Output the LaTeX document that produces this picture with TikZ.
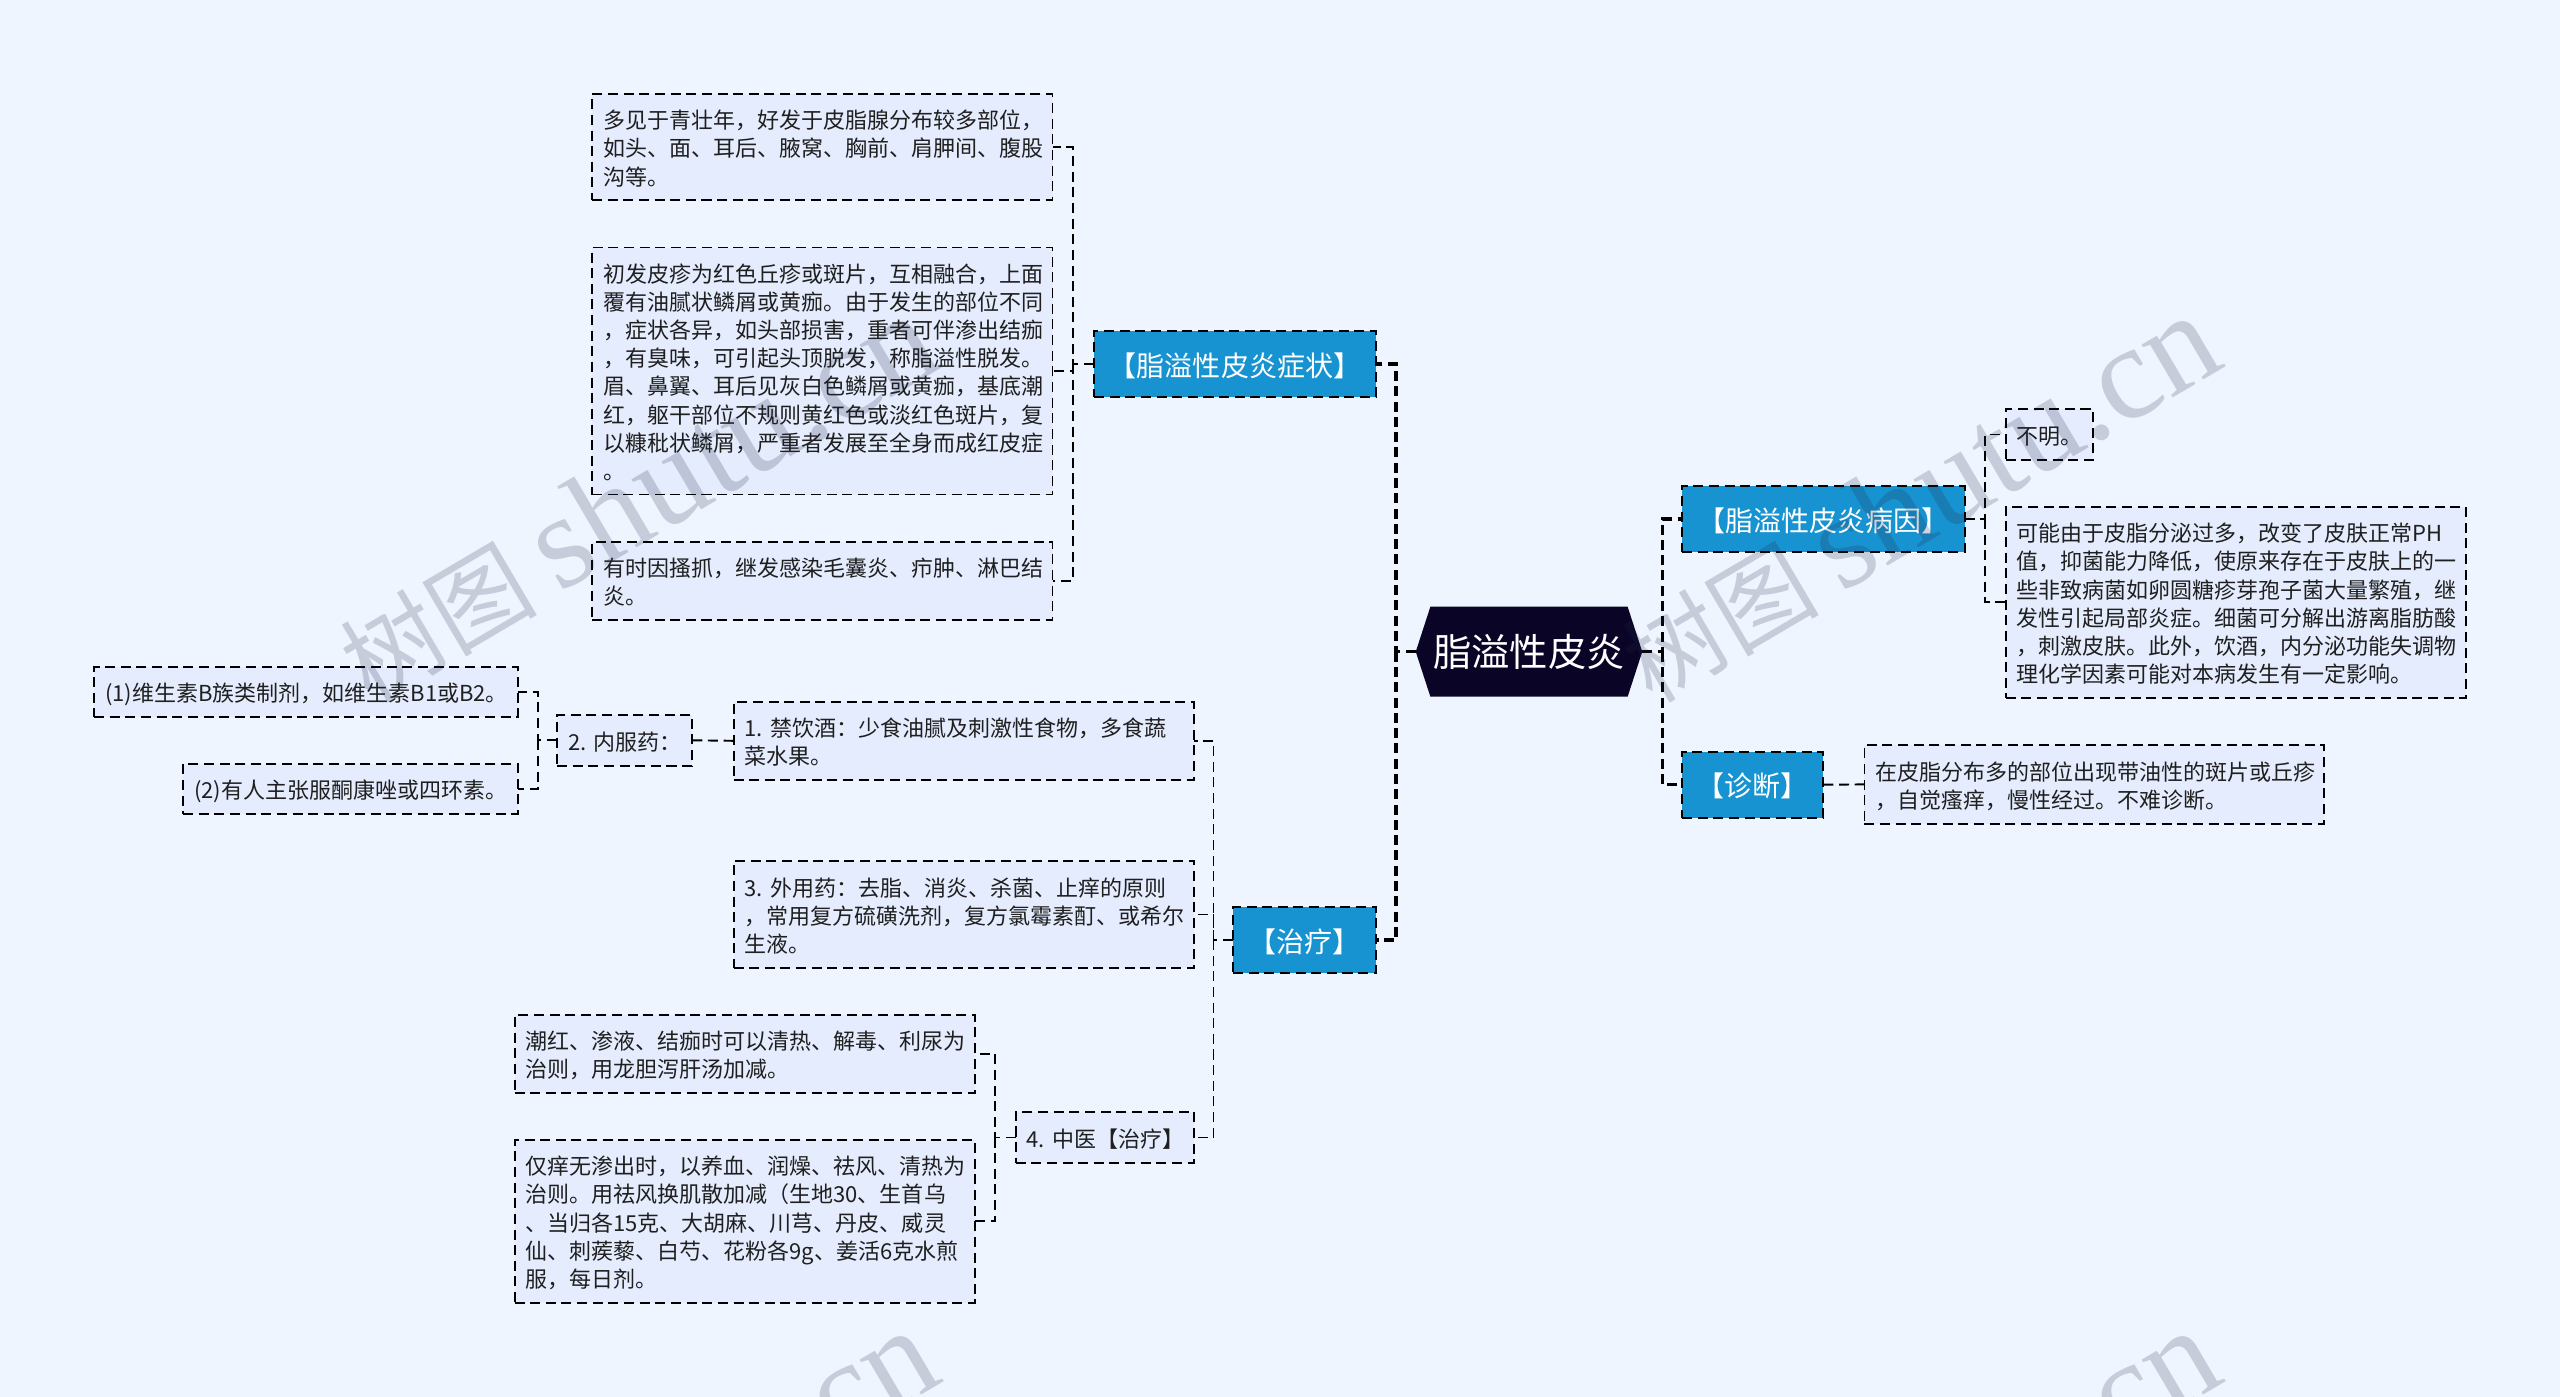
\documentclass[tikz,border=0pt]{standalone}
\usepackage{fontspec}
\setmainfont{Noto Sans CJK SC}
\newfontfamily\markfont{Liberation Serif}
\usepackage{tikz}
\usetikzlibrary{calc,shapes.symbols}
\definecolor{pagebg}{HTML}{EFF5FF}
\definecolor{leafbg}{HTML}{E4ECFD}
\definecolor{branchbg}{HTML}{1793D1}
\definecolor{rootbg}{HTML}{0A0527}
\definecolor{inkdark}{HTML}{1F1F1F}
\definecolor{markink}{HTML}{222841}
\frenchspacing
\tikzset{
	leaf/.style 2 args={draw=black,fill=leafbg,text=inkdark,line width=0.55pt,dash pattern=on 2.85pt off 1.6pt,inner xsep=0.11cm,inner ysep=0pt,outer sep=0pt,text width=#1cm,minimum height=#2cm,align=left,font=\fontsize{6.26}{8.02}\selectfont,execute at begin node={\rule{0pt}{7.35pt}},execute at end node={\rule[-1.74pt]{0pt}{1.74pt}}},
	branch/.style={draw=black,fill=branchbg,text=white,line width=0.6pt,dash pattern=on 2.85pt off 1.6pt,inner sep=0pt,outer sep=0pt,minimum height=0.66cm,font=\fontsize{7.97}{9.5}\selectfont,execute at begin node={\rule[-3pt]{0pt}{12.85pt}}},
	topic/.style={shape=signal,signal to=west and east,signal pointer angle=144,fill=rootbg,text=white,inner sep=0pt,outer sep=0pt,minimum width=2.265cm,minimum height=0.9cm,font=\fontsize{10.9}{13}\selectfont},
	trunk/.style={draw=black,line width=0.9pt,dash pattern=on 2.85pt off 1.5pt},
	bus/.style={draw=black,line width=0.55pt,dash pattern=on 2.85pt off 1.6pt},
	stamp/.style={anchor=base west,rotate=30.5,text=markink,opacity=0.2,inner sep=0pt,font=\fontsize{28}{28}\selectfont}
}
\newcommand{\stamptext}{树图 {\markfont\fontsize{38}{38}\selectfont shutu.cn}}
\begin{document}
\begin{tikzpicture}
	
	\fill[pagebg] (0,0) rectangle (25.6,-13.97);
	\useasboundingbox (0,0) rectangle (25.6,-13.97);
	
	\node[topic] (root) at (15.29,-6.517) {脂溢性皮炎};
	
	\node[branch,minimum width=2.82cm] (sym) at (12.35,-3.64) {【脂溢性皮炎症状】};
	
	\node[branch,minimum width=1.43cm] (treat) at (13.045,-9.40) {【治疗】};
	
	\node[branch,minimum width=2.826cm] (cause) at (18.233,-5.19) {【脂溢性皮炎病因】};
	
	\node[branch,minimum width=1.414cm] (diag) at (17.527,-7.847) {【诊断】};
	
	\node[leaf={4.385}{1.06}] (age) at (8.2225,-1.47) {多见于青壮年，好发于皮脂腺分布较多部位，\\如头、面、耳后、腋窝、胸前、肩胛间、腹股\\沟等。};
	
	\node[leaf={4.385}{2.47}] (rash) at (8.2225,-3.71) {初发皮疹为红色丘疹或斑片，互相融合，上面\\覆有油腻状鳞屑或黄痂。由于发生的部位不同\\，症状各异，如头部损害，重者可伴渗出结痂\\，有臭味，可引起头顶脱发，称脂溢性脱发。\\眉、鼻翼、耳后见灰白色鳞屑或黄痂，基底潮\\红，躯干部位不规则黄红色或淡红色斑片，复\\以糠秕状鳞屑，严重者发展至全身而成红皮症\\。};
	
	\node[leaf={4.385}{0.78}] (itch) at (8.2225,-5.81) {有时因搔抓，继发感染毛囊炎、疖肿、淋巴结\\炎。};
	
	\node[leaf={0.653}{0.51}] (unknown) at (20.493,-4.345) {不明。};
	
	\node[leaf={4.383}{1.91}] (oil) at (22.358,-6.024) {可能由于皮脂分泌过多，改变了皮肤正常PH\\值，抑菌能力降低，使原来存在于皮肤上的一\\些非致病菌如卵圆糖疹芽孢子菌大量繁殖，继\\发性引起局部炎症。细菌可分解出游离脂肪酸\\，刺激皮肤。此外，饮酒，内分泌功能失调物\\理化学因素可能对本病发生有一定影响。};
	
	\node[leaf={4.375}{0.787}] (spot) at (20.942,-7.844) {在皮脂分布多的部位出现带油性的斑片或丘疹\\，自觉瘙痒，慢性经过。不难诊断。};
	
	\node[leaf={4.385}{0.78}] (diet) at (9.638,-7.408) {1.~禁饮酒：少食油腻及刺激性食物，多食蔬\\菜水果。};
	
	\node[leaf={4.385}{1.07}] (topical) at (9.638,-9.145) {3.~外用药：去脂、消炎、杀菌、止痒的原则\\，常用复方硫磺洗剂，复方氯霉素酊、或希尔\\生液。};
	
	\node[leaf={1.564}{0.51}] (herb) at (11.048,-11.375) {4.~中医【治疗】};
	
	\node[leaf={1.13}{0.51}] (oral) at (6.245,-7.403) {2.~内服药：};
	
	\node[leaf={4.015}{0.5}] (vita) at (3.058,-6.92) {(1)维生素B族类制剂，如维生素B1或B2。};
	
	\node[leaf={3.125}{0.5}] (keto) at (3.503,-7.89) {(2)有人主张服酮康唑或四环素。};
	
	\node[leaf={4.385}{0.78}] (flush) at (7.448,-10.54) {潮红、渗液、结痂时可以清热、解毒、利尿为\\治则，用龙胆泻肝汤加减。};
	
	\node[leaf={4.385}{1.625}] (dry) at (7.448,-12.213) {仅痒无渗出时，以养血、润燥、祛风、清热为\\治则。用祛风换肌散加减（生地30、生首乌\\、当归各15克、大胡麻、川芎、丹皮、威灵\\仙、刺蒺藜、白芍、花粉各9g、姜活6克水煎\\服，每日剂。};
	
	\coordinate (trunkL) at (13.96,-6.517);
	\coordinate (trunkR) at (16.627,-6.517);
	\coordinate (busSym) at (10.73,-3.64);
	\coordinate (busCause) at (19.85,-5.19);
	\coordinate (busTreat) at (12.135,-9.40);
	\coordinate (busOral) at (5.38,-7.403);
	\coordinate (busHerb) at (9.95,-11.375);
	
	\draw[trunk] (root.west) -- (trunkL) |- (sym.east);
	\draw[trunk] (trunkL) |- (treat.east);
	\draw[trunk] (root.east) -- (trunkR) |- (cause.west);
	\draw[trunk] (trunkR) |- (diag.west);
	
	\draw[bus] (sym.west) -- (busSym) |- (age.east);
	\draw[bus] (busSym) |- (rash.east);
	\draw[bus] (busSym) |- (itch.east);
	
	\draw[bus] (cause.east) -- (busCause) |- (unknown.west);
	\draw[bus] (busCause) |- (oil.west);
	\draw[bus] (diag.east) -- (spot.west);
	
	\draw[bus] (treat.west) -- (busTreat) |- (diet.east);
	\draw[bus] (busTreat) |- (topical.east);
	\draw[bus] (busTreat) |- (herb.east);
	
	\draw[bus] (diet.west) -- (oral.east);
	\draw[bus] (oral.west) -- (busOral) |- (vita.east);
	\draw[bus] (busOral) |- (keto.east);
	
	\draw[bus] (herb.west) -- (busHerb) |- (flush.east);
	\draw[bus] (busHerb) |- (dry.east);
	
	\begin{scope}
	\clip (0,0) rectangle (25.6,-13.97);
	\node[stamp] (markA) at (3.70,-7.05) {\stamptext};
	\node[stamp] (markB) at (16.52,-7.05) {\stamptext};
	\node[stamp] (markC) at (3.70,-17.2) {\stamptext};
	\node[stamp] (markD) at (16.52,-17.2) {\stamptext};
	\end{scope}
	
\end{tikzpicture}
\end{document}
